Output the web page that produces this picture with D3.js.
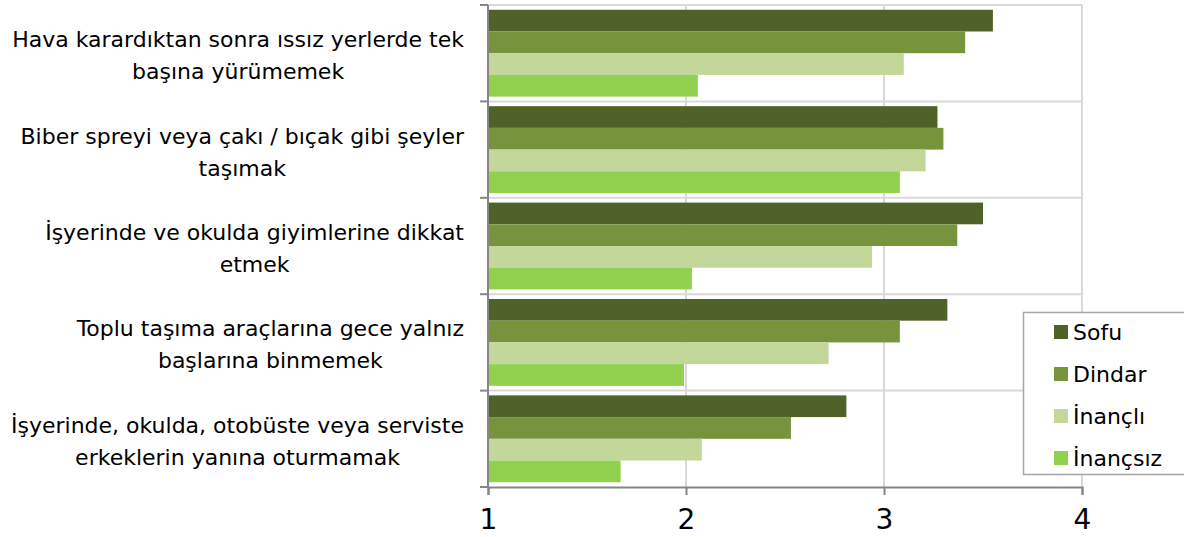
<!DOCTYPE html>
<html>
<head>
<meta charset="utf-8">
<script src="https://cdn.jsdelivr.net/npm/d3@7.9.0/dist/d3.min.js"></script>
<style>
  html, body { margin: 0; padding: 0; background: #fff; }
  svg { display: block; font-family: "DejaVu Sans", Verdana, sans-serif; }
</style>
</head>
<body>
<svg id="chart" width="1184" height="537"></svg>
<script>
// ---- data ----
const categories = [
  ['Hava karardıktan sonra ıssız yerlerde tek', 'başına yürümemek'],
  ['Biber spreyi veya çakı / bıçak gibi şeyler', 'taşımak'],
  ['İşyerinde ve okulda giyimlerine dikkat', 'etmek'],
  ['Toplu taşıma araçlarına gece yalnız', 'başlarına binmemek'],
  ['İşyerinde, okulda, otobüste veya serviste', 'erkeklerin yanına oturmamak']
];
const seriesNames = ['Sofu', 'Dindar', 'İnançlı', 'İnançsız'];
const seriesColors = ['#4f6228', '#77933c', '#c4d79b', '#92d050'];
const sofu     = [3.55, 3.27, 3.50, 3.32, 2.81];
const dindar   = [3.41, 3.30, 3.37, 3.08, 2.53];
const inancli  = [3.10, 3.21, 2.94, 2.72, 2.08];
const inancsiz = [2.06, 3.08, 2.03, 1.99, 1.67];
const xTicks = [1, 2, 3, 4];

const seriesValues = [sofu, dindar, inancli, inancsiz];

// ---- layout ----
const plot = { left: 488, right: 1082, top: 5, bottom: 487 };
const svg = d3.select('#chart');

const x = d3.scaleLinear().domain([1, 4]).range([plot.left, plot.right]);
const y = d3.scaleBand().domain(d3.range(categories.length)).range([plot.top, plot.bottom]).padding(0);
const ySub = d3.scaleBand().domain(d3.range(seriesNames.length))
  .range([0, y.bandwidth()]).paddingInner(0).paddingOuter(0.22);

// gridlines
const grid = svg.append('g');
grid.selectAll('line.v').data(xTicks.slice(1)).join('line')
  .attr('x1', d => x(d)).attr('x2', d => x(d))
  .attr('y1', plot.top).attr('y2', plot.bottom)
  .attr('stroke', '#d9d9d9').attr('stroke-width', 2);
grid.selectAll('line.h').data(d3.range(categories.length)).join('line')
  .attr('x1', plot.left).attr('x2', plot.right)
  .attr('y1', d => y(d)).attr('y2', d => y(d))
  .attr('stroke', '#d9d9d9').attr('stroke-width', 2);

// bars
const groups = svg.append('g').selectAll('g').data(categories).join('g')
  .attr('transform', (d, i) => `translate(0,${y(i)})`);
groups.selectAll('rect').data((d, i) => seriesValues.map((s, j) => ({ j, v: s[i] }))).join('rect')
  .attr('x', x(1))
  .attr('y', d => ySub(d.j))
  .attr('width', d => x(d.v) - x(1))
  .attr('height', ySub.bandwidth())
  .attr('fill', d => seriesColors[d.j]);

// axes
const xAxis = svg.append('g').attr('transform', `translate(0,${plot.bottom})`)
  .call(d3.axisBottom(x).tickValues(xTicks).tickSize(8).tickFormat(d3.format('d')));
xAxis.select('.domain').attr('stroke', '#868686').attr('stroke-width', 2);
xAxis.selectAll('.tick line').attr('stroke', '#868686').attr('stroke-width', 2);
xAxis.selectAll('.tick text').attr('y', 22).attr('dy', '0.71em')
  .attr('font-size', 28).attr('fill', '#000')
  .attr('font-family', '"DejaVu Sans", Verdana, sans-serif');

const yAxis = svg.append('g').attr('transform', `translate(${plot.left},0)`);
yAxis.append('line').attr('x1', 0).attr('x2', 0).attr('y1', plot.top).attr('y2', plot.bottom)
  .attr('stroke', '#868686').attr('stroke-width', 2);
yAxis.selectAll('line.t').data(d3.range(categories.length + 1)).join('line')
  .attr('x1', -8).attr('x2', 0)
  .attr('y1', d => plot.top + d * y.step()).attr('y2', d => plot.top + d * y.step())
  .attr('stroke', '#868686').attr('stroke-width', 2);

// category labels: wrapped lines centred within a right-aligned block
const labelRight = 464;
const labels = svg.append('g').attr('font-size', 22).attr('fill', '#000');
categories.forEach((lines, i) => {
  const cy = y(i) + y.bandwidth() / 2;
  const g = labels.append('g');
  const texts = lines.map((t, k) => g.append('text')
    .attr('y', cy - 6 + k * 32)
    .attr('text-anchor', 'middle')
    .text(t));
  const maxW = d3.max(texts, t => t.node().getComputedTextLength());
  texts.forEach(t => t.attr('x', labelRight - maxW / 2));
});

// legend
const legend = svg.append('g');
legend.append('rect').attr('x', 1023.5).attr('y', 312.5).attr('width', 170).attr('height', 162)
  .attr('fill', '#fff').attr('stroke', '#a6a6a6').attr('stroke-width', 1.5);
seriesNames.forEach((name, j) => {
  const cy = 332 + j * 42;
  legend.append('rect').attr('x', 1054).attr('y', cy - 7).attr('width', 14).attr('height', 14)
    .attr('fill', seriesColors[j]);
  legend.append('text').attr('x', 1073).attr('y', cy).attr('dy', '0.36em')
    .attr('font-size', 22).attr('fill', '#000').text(name);
});
</script>
</body>
</html>
